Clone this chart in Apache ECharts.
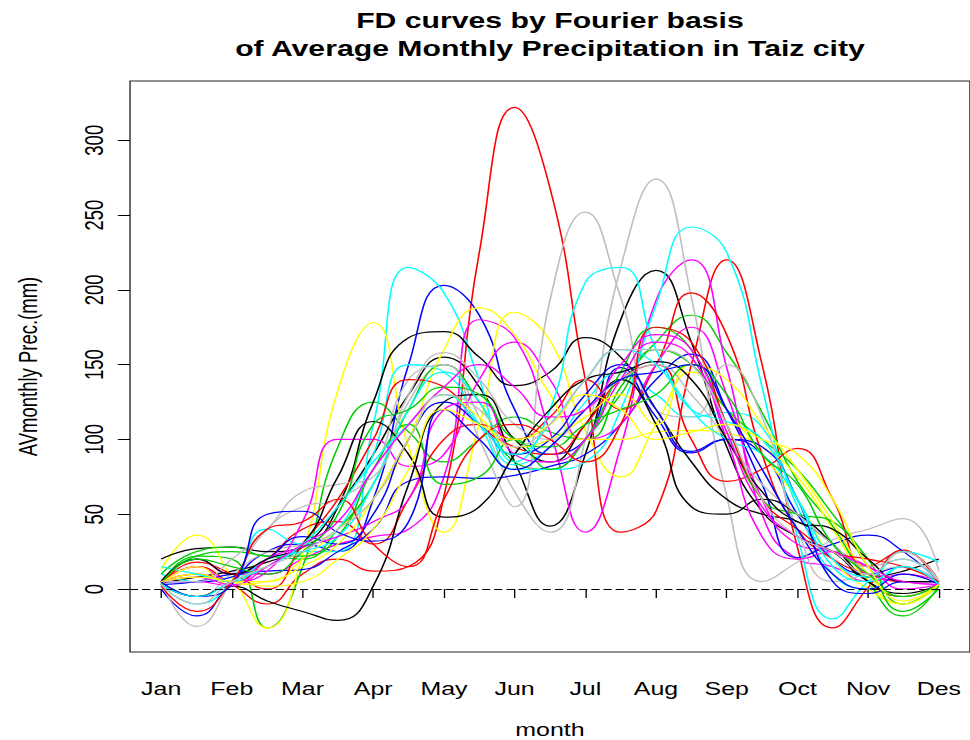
<!DOCTYPE html>
<html>
<head>
<meta charset="utf-8">
<script src="https://cdn.jsdelivr.net/npm/echarts@6/dist/echarts.min.js"></script>
<style>
  html, body { margin: 0; padding: 0; background: #fff; overflow: hidden; }
  #wrap { width: 970px; height: 740px; overflow: hidden; position: relative; }
  /* the figure is laid out narrow and widened horizontally, like a stretched R device */
  #chart { width: 719px; height: 740px; transform: scaleX(1.349); transform-origin: 0 0; }
</style>
</head>
<body>
<div id="wrap"><div id="chart"></div></div>
<script>
// Evaluation grid of the smoothed curves (month index, half-month steps)
const monthGrid = [1, 1.5, 2, 2.5, 3, 3.5, 4, 4.5, 5, 5.5, 6, 6.5, 7, 7.5, 8, 8.5, 9, 9.5, 10, 10.5, 11, 11.5, 12];
const monthNames = ['Jan', 'Feb', 'Mar', 'Apr', 'May', 'Jun', 'Jul', 'Aug', 'Sep', 'Oct', 'Nov', 'Des'];
const monthTicks = [1, 2, 3, 4, 5, 6, 7, 8, 9, 10, 11, 12];
const precipTicks = [0, 50, 100, 150, 200, 250, 300];

// R default palette, recycled over the curves
const curveColors = ['#000000', '#FF0000', '#00CD00', '#0000FF', '#00FFFF', '#FF00FF', '#FFFF00', '#BEBEBE'];

// FD curve values (mm) on monthGrid, one array per year
const curve01 = [4, 8, 12, 18, 28, 55, 90, 130, 155, 135, 85, 42, 90, 180, 213, 165, 95, 52, 35, 25, 5, -3, 3];
const curve02 = [5, 15, 3, -10, 10, 20, 12, 15, 62, 225, 322, 268, 140, 38, 52, 150, 220, 150, 28, -26, 1, 26, 3];
const curve03 = [3, 22, 20, -26, 15, 95, 125, 105, 85, 100, 115, 105, 100, 135, 165, 183, 158, 118, 72, 42, 5, -18, 2];
const curve04 = [0, -18, 5, 25, 30, 25, 60, 150, 203, 183, 120, 90, 100, 148, 115, 91, 100, 90, 50, 20, 10, 15, 3];
const curve05 = [10, 5, 8, 15, 25, 25, 110, 215, 198, 140, 83, 95, 125, 145, 130, 115, 118, 108, 55, 10, 0, 15, 5];
const curve06 = [5, 20, 10, 10, 20, 30, 35, 40, 75, 180, 168, 105, 38, 95, 193, 220, 148, 50, 20, 15, 5, 10, 5];
const curve07 = [13, 36, 8, -26, 23, 133, 178, 95, 38, 110, 185, 166, 106, 75, 110, 145, 120, 90, 60, 20, 0, -10, 5];
const curve08 = [5, -5, 10, 25, 30, 40, 70, 125, 150, 115, 65, 38, 100, 215, 274, 195, 62, 5, 18, 33, 40, 47, 12];
const curve09 = [20, 27, 28, 25, 28, 55, 125, 168, 172, 155, 136, 145, 168, 155, 120, 85, 60, 50, 45, 30, 8, 12, 20];
const curve10 = [5, 10, 5, 20, 40, 45, 30, 60, 100, 110, 100, 115, 140, 120, 150, 198, 170, 90, 40, 20, 10, 5, 5];
const curve11 = [5, 22, 25, 22, 20, 40, 70, 120, 150, 125, 85, 80, 100, 130, 160, 150, 120, 100, 80, 50, 20, -10, 2];
const curve12 = [3, 5, 10, 12, 13, 25, 40, 72, 75, 74, 76, 82, 90, 110, 140, 157, 120, 70, 21, 30, 36, 25, 5];
const curve13 = [3, -10, 5, 40, 30, 40, 90, 150, 145, 110, 80, 80, 85, 120, 190, 242, 225, 135, 35, -20, 5, 20, 5];
const curve14 = [3, 15, 5, 12, 45, 100, 100, 82, 90, 140, 165, 140, 100, 110, 150, 175, 130, 60, 30, 25, 15, 0, 3];
const curve15 = [5, 10, 5, 5, 20, 40, 60, 100, 160, 188, 170, 130, 100, 100, 105, 106, 104, 95, 75, 40, 5, -10, 3];
const curve16 = [5, -25, 5, 40, 55, 60, 80, 140, 150, 100, 55, 193, 252, 195, 120, 115, 150, 115, 40, 5, 10, 15, 5];
const curve17 = [3, -5, 2, -8, -15, -21, 2, 70, 125, 130, 100, 85, 110, 140, 110, 55, 50, 60, 50, 30, 5, -5, 3];
const curve18 = [3, 18, 10, 0, 30, 60, 100, 140, 135, 110, 95, 90, 110, 140, 150, 100, 72, 80, 94, 60, 15, 25, 5];
const curve19 = [10, 25, 28, 22, 22, 35, 80, 110, 70, 75, 100, 80, 100, 145, 175, 160, 110, 60, 50, 45, 15, -15, 0];
const curve20 = [5, 5, 8, 20, 35, 30, 50, 100, 125, 110, 90, 100, 130, 150, 120, 92, 100, 95, 60, 5, -3, 5, 5];
const curve21 = [15, 10, 5, 20, 25, 35, 70, 120, 145, 125, 85, 120, 205, 215, 160, 120, 100, 90, 60, 20, 8, 25, 18];
const curve22 = [5, 5, 2, 20, 28, 35, 45, 60, 120, 125, 90, 85, 100, 140, 165, 155, 100, 35, 20, 25, 10, 5, 3];
const curve23 = [3, 15, 3, 5, 15, 30, 60, 100, 130, 115, 95, 100, 115, 130, 110, 150, 140, 110, 80, 45, 10, -5, 3];
const curve24 = [5, 5, 20, 40, 65, 70, 75, 130, 158, 140, 110, 100, 120, 140, 150, 130, 100, 70, 50, 30, 15, 20, 5];
const curve25 = [5, 20, 10, 20, 30, 75, 112, 90, 48, 55, 90, 120, 140, 145, 152, 140, 100, 65, 45, 40, 20, 5, 5];
const curve26 = [2, -15, 5, 40, 45, 60, 30, 15, 60, 100, 110, 100, 85, 110, 175, 165, 110, 60, 40, 25, 20, 15, 5];
const curve27 = [3, 20, 15, 10, 25, 50, 110, 120, 135, 130, 100, 95, 110, 120, 130, 150, 130, 90, 70, 30, 10, -5, 3];
const curve28 = [5, -5, 3, 50, 52, 38, 32, 45, 120, 100, 80, 95, 120, 140, 145, 150, 120, 80, 40, 10, 0, 10, 3];
const curve29 = [3, -5, 5, 15, 30, 55, 85, 110, 130, 110, 90, 110, 140, 160, 150, 120, 112, 100, 60, 15, 5, 15, 3];
const curve30 = [5, 8, 3, 15, 30, 45, 80, 110, 135, 150, 135, 115, 120, 150, 170, 160, 105, 55, 35, 25, 15, 5, 3];
const curve31 = [5, 8, 5, 2, 5, 20, 40, 80, 120, 110, 100, 110, 130, 120, 100, 105, 110, 100, 90, 60, 15, -8, 3];
const curve32 = [3, -10, 5, 15, 25, 40, 60, 100, 130, 120, 95, 110, 140, 160, 160, 150, 110, 60, 35, 25, 10, 25, 5];

const curves = [
  curve01, curve02, curve03, curve04, curve05, curve06, curve07, curve08,
  curve09, curve10, curve11, curve12, curve13, curve14, curve15, curve16,
  curve17, curve18, curve19, curve20, curve21, curve22, curve23, curve24,
  curve25, curve26, curve27, curve28, curve29, curve30, curve31, curve32
];

const FONT = '"Liberation Sans", Arial, Helvetica, sans-serif';

const curveSeries = curves.map((vals, i) => ({
  type: 'line',
  name: 'curve' + String(i + 1).padStart(2, '0'),
  data: vals.map((v, k) => [monthGrid[k], v]),
  smooth: 0.5,
  showSymbol: false,
  symbol: 'none',
  clip: true,
  silent: true,
  lineStyle: { color: curveColors[i % curveColors.length], width: 1.2 },
  z: 2
}));

// horizontal reference at zero
const zeroSeries = {
  type: 'line',
  name: 'zero',
  data: [],
  silent: true,
  z: 3,
  markLine: {
    silent: true,
    symbol: 'none',
    label: { show: false },
    lineStyle: { color: '#000', width: 1.1, type: [6, 3] },
    data: [{ yAxis: 0 }]
  }
};

const chart = echarts.init(document.getElementById('chart'), null, { renderer: 'svg' });
chart.setOption({
  animation: false,
  backgroundColor: '#ffffff',
  title: {
    text: 'FD curves by Fourier basis\nof Average Monthly Precipitation in Taiz city',
    left: 407.7,
    top: 6,
    padding: 0,
    textAlign: 'center',
    textStyle: { fontFamily: FONT, fontSize: 22.4, fontWeight: 'bold', color: '#000', lineHeight: 28 }
  },
  grid: {
    left: 96.4, right: 0, top: 81, bottom: 88,
    outerBoundsMode: 'none',
    containLabel: false,
    show: true, borderColor: '#222', borderWidth: 1, backgroundColor: 'transparent'
  },
  xAxis: {
    type: 'value',
    min: 0.56, max: 12.44,
    axisLine: { show: false },
    axisTick: { show: true, customValues: monthTicks, length: 9, lineStyle: { color: '#000', width: 1 } },
    axisLabel: {
      show: true, customValues: monthTicks,
      formatter: v => monthNames[Math.round(v) - 1],
      fontFamily: FONT, fontSize: 18.5, color: '#000', margin: 27
    },
    splitLine: { show: false },
    name: 'month', nameLocation: 'middle', nameGap: 68,
    nameTextStyle: { fontFamily: FONT, fontSize: 18.5, color: '#000' }
  },
  yAxis: {
    type: 'value',
    min: -42.1, max: 339.6,
    axisLine: { show: false },
    axisTick: { show: true, customValues: precipTicks, length: 9, lineStyle: { color: '#000', width: 1 } },
    axisLabel: {
      show: true, customValues: precipTicks, rotate: 90,
      fontFamily: FONT, fontSize: 18.5, color: '#000', margin: 17
    },
    splitLine: { show: false },
    name: 'AVmonthly Prec.(mm)', nameLocation: 'middle', nameRotate: 90, nameGap: 66,
    nameTextStyle: { fontFamily: FONT, fontSize: 18.5, color: '#000' }
  },
  series: curveSeries.concat([zeroSeries])
});
</script>
</body>
</html>
